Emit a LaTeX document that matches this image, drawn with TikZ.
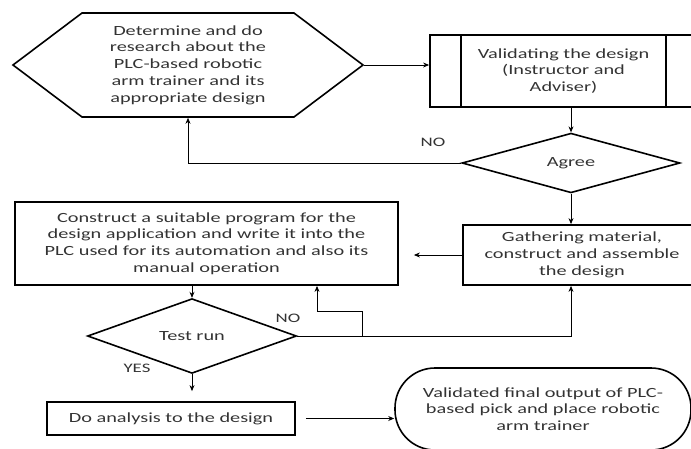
\documentclass[tikz,border=0pt]{standalone}
\usepackage{fontspec}
\setmainfont{Carlito}[FakeStretch=1.45]
\usetikzlibrary{arrows.meta,positioning,shapes.geometric,shapes.symbols}

\begin{document}
\begin{tikzpicture}[
    x=1pt,
    y=1pt,
    >={Stealth[length=6pt,width=5pt]},
    every node/.style={
        text=black!80,
        font=\fontsize{14}{16.7}\selectfont
    },
    boite/.style={
        rectangle,
        draw,
        line width=1.8pt,
        align=center,
        inner sep=0pt
    },
    hexa/.style={
        signal,
        signal to=west and east,
        signal pointer angle=74,
        draw,
        line width=1.6pt,
        minimum width=350,
        minimum height=104,
        inner sep=0pt,
        align=center
    },
    losange/.style={
        diamond,
        draw,
        line width=1.6pt,
        inner sep=0pt
    },
    fin/.style={
        rectangle,
        rounded corners=40pt,
        draw,
        line width=1.6pt,
        align=center
    },
    fleche/.style={
        ->,
        line width=0.8pt
    },
    etiquette/.style={
        font=\fontsize{13}{15}\selectfont
    }
]

\useasboundingbox (0,0) rectangle (691,-448);
\clip (0,0) rectangle (691,-448);

\node[hexa] (hex) at (188,-65)
{Determine and do\\research about the\\PLC-based robotic\\arm trainer and its\\appropriate design};

\node[boite, minimum width=267, minimum height=72] (valid) at (563.5,-71)
{Validating the design\\(Instructor and\\Adviser)};
\draw[line width=1.8pt] ([xshift=32pt]valid.north west) -- ([xshift=32pt]valid.south west);
\draw[line width=1.8pt] ([xshift=-32pt]valid.north east) -- ([xshift=-32pt]valid.south east);

\node[losange, minimum width=218, minimum height=45] (agree) at (571,-163) {Agree};

\node[boite, minimum width=238, minimum height=60] (gather) at (582,-255)
{Gathering material,\\construct and assemble\\the design};

\node[boite, minimum width=383, minimum height=83] (constr) at (206.5,-243.5)
{Construct a suitable program for the\\design application and write it into the\\PLC used for its automation and also its\\manual operation};

\node[losange, minimum width=209, minimum height=52] (test) at (192,-336) {Test run};

\node[boite, minimum width=248, minimum height=33] (analyse) at (171,-418.5)
{Do analysis to the design};

\node[fin, minimum width=296, minimum height=82] (final) at (543,-409)
{Validated final output of PLC-\\based pick and place robotic\\arm trainer};

\node[etiquette] (non1) at (433,-142) {NO};
\node[etiquette] (non2) at (288,-318) {NO};
\node[etiquette] (oui) at (137,-368) {YES};

\coordinate (brA) at (362,-336);
\coordinate (brB) at (317,-311);

\draw[fleche] (hex.east) -- (hex.east -| valid.west);
\draw[fleche] (valid.south -| agree.north) -- (agree.north);
\draw[fleche] (agree.west) -| (hex.south);
\draw[fleche] (agree.south) -- (agree.south |- gather.north);
\draw[fleche, shorten >=15pt] (gather.west) -- (gather.west -| constr.east);
\draw[fleche] (constr.south -| test.north) -- (test.north);
\draw[fleche] (test.east) -| (agree.south |- gather.south);
\draw[fleche] (brA) |- (brB) -- (brB |- constr.south);
\draw[fleche, shorten >=10pt] (test.south) -- (test.south |- analyse.north);
\draw[fleche, shorten <=10pt] (analyse.east) -- (analyse.east -| final.west);

\end{tikzpicture}
\end{document}
